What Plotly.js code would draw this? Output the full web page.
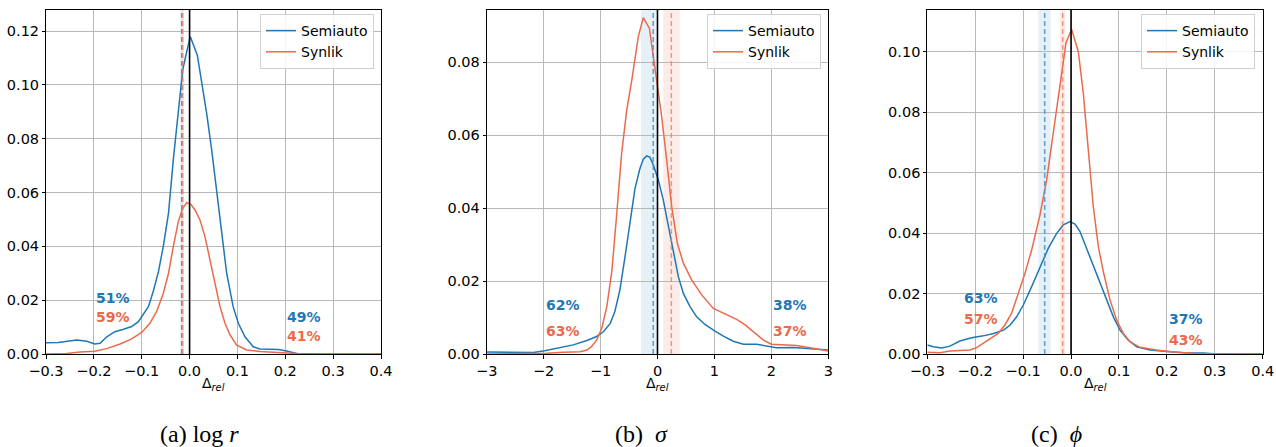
<!DOCTYPE html>
<html>
<head>
<meta charset="utf-8">
<script src="https://cdn.plot.ly/plotly-3.0.1.min.js"></script>
<style>html,body{margin:0;padding:0;background:#fff;}#plot{width:1276px;height:447px;}</style>
</head>
<body>
<div id="plot"></div>
<script>
// ---------- DATA ----------
const seriesNames = ["Semiauto", "Synlik"];
const captions = ["(a)&#160;log&#160;<i>r</i>", "(b)&#160;&#160;<i>σ</i>", "(c)&#160;&#160;<i>ϕ</i>"];

// Panel (a) log r
const a_semi_x = [-0.3,-0.274,-0.236,-0.215,-0.198,-0.187,-0.173,-0.156,-0.138,-0.121,-0.107,-0.097,-0.086,-0.076,-0.065,-0.055,-0.044,-0.034,-0.0235,-0.0144,-0.006,0.0016,0.0162,0.025,0.0357,0.0462,0.0566,0.067,0.0775,0.091,0.1019,0.1158,0.1332,0.147,0.168,0.1855,0.203,0.224,0.2656,0.4];
const a_semi_y = [0.0042,0.0043,0.0052,0.0047,0.0037,0.004,0.0064,0.0083,0.0092,0.0102,0.012,0.0145,0.0176,0.0232,0.0306,0.0399,0.0523,0.0721,0.0906,0.1055,0.1123,0.1179,0.111,0.1012,0.0894,0.0758,0.0609,0.0448,0.030,0.0176,0.0114,0.0064,0.0027,0.0019,0.0019,0.0017,0.0011,0.0002,0,0];
const a_syn_x = [-0.3,-0.257,-0.229,-0.198,-0.173,-0.145,-0.121,-0.1,-0.083,-0.069,-0.055,-0.044,-0.034,-0.0235,-0.0144,-0.006,0.0023,0.0113,0.0218,0.0322,0.0427,0.0531,0.0636,0.074,0.0845,0.0984,0.1193,0.147,0.182,0.2308,0.4];
const a_syn_y = [0,0.0002,0.0007,0.001,0.002,0.0037,0.0056,0.008,0.0114,0.0157,0.0225,0.030,0.0399,0.0492,0.0541,0.0562,0.0557,0.0535,0.0498,0.0436,0.0349,0.0256,0.0176,0.0114,0.0071,0.0033,0.0015,0.0009,0.0005,0.0001,0];

// Panel (b) sigma
const b_semi_x = [-3,-2.53,-2.18,-1.98,-1.77,-1.48,-1.24,-1.07,-0.95,-0.83,-0.75,-0.66,-0.57,-0.48,-0.395,-0.307,-0.249,-0.19,-0.132,-0.073,0.015,0.102,0.19,0.278,0.366,0.454,0.571,0.688,0.834,1.01,1.157,1.33,1.51,1.74,1.92,2.09,2.39,2.62,3];
const b_semi_y = [0.00055,0.00046,0.0004,0.0009,0.0016,0.0025,0.0037,0.0048,0.0061,0.0084,0.0116,0.0176,0.0267,0.0368,0.0454,0.0509,0.0534,0.0543,0.0539,0.0518,0.0477,0.0422,0.0349,0.0276,0.0212,0.0166,0.013,0.0102,0.0081,0.0063,0.0049,0.0035,0.0027,0.0027,0.0022,0.0017,0.0018,0.0016,0.0011];
const b_syn_x = [-3,-1.95,-1.65,-1.36,-1.24,-1.16,-1.07,-0.98,-0.89,-0.80,-0.72,-0.63,-0.54,-0.45,-0.337,-0.249,-0.143,-0.073,-0.003,0.073,0.161,0.249,0.348,0.454,0.6,0.776,0.98,1.157,1.39,1.54,1.68,1.86,2.0,2.21,2.44,2.68,3];
const b_syn_y = [0,0.0002,0.0005,0.0006,0.0011,0.002,0.0038,0.007,0.013,0.023,0.0377,0.055,0.0669,0.0752,0.087,0.0922,0.0893,0.0815,0.0733,0.0651,0.0532,0.0404,0.0304,0.0249,0.0203,0.0162,0.0125,0.0112,0.0095,0.008,0.0061,0.0038,0.0027,0.0025,0.0023,0.0017,0.0008];

// Panel (c) phi
const c_semi_x = [-0.3,-0.2875,-0.27,-0.2527,-0.232,-0.2075,-0.183,-0.162,-0.141,-0.127,-0.1135,-0.0996,-0.0822,-0.0648,-0.0474,-0.03,-0.0161,-0.0022,0.0083,0.0187,0.0326,0.0465,0.0604,0.0743,0.0883,0.1022,0.1196,0.137,0.1648,0.1996,0.2344,0.276,0.304,0.4];
const c_semi_y = [0.003,0.0024,0.002,0.0026,0.0043,0.0054,0.006,0.0068,0.0079,0.0096,0.0123,0.0162,0.0223,0.0289,0.035,0.0399,0.0427,0.0438,0.043,0.0405,0.035,0.0289,0.0234,0.0179,0.0123,0.0079,0.0046,0.0024,0.0013,0.0008,0.0004,0.0003,0,0];
const c_syn_x = [-0.3,-0.2736,-0.2527,-0.232,-0.211,-0.197,-0.183,-0.169,-0.152,-0.138,-0.124,-0.110,-0.0961,-0.0822,-0.0648,-0.0509,-0.037,-0.0231,-0.0105,0.0013,0.0152,0.0256,0.0361,0.0465,0.057,0.0674,0.0813,0.0952,0.1091,0.123,0.1439,0.1787,0.2135,0.262,0.4];
const c_syn_y = [0.0006,0.0004,0.001,0.0012,0.0013,0.0021,0.0035,0.005,0.0068,0.0096,0.0135,0.0201,0.0267,0.0344,0.046,0.0576,0.073,0.0895,0.103,0.1074,0.1,0.0862,0.0664,0.0487,0.0355,0.0272,0.0179,0.0112,0.0068,0.0041,0.0022,0.0013,0.0007,0.0002,0];

// Medians and their bands [semi, syn] per panel
const medians   = [[-0.0164, -0.0143], [-0.075, 0.243], [-0.055, -0.0174]];
const bandLow   = [[-0.0195, -0.0165], [-0.29, 0.10], [-0.0683, -0.023]];
const bandHigh  = [[-0.0133, -0.0120], [-0.005, 0.39], [-0.0425, -0.012]];

// Percent labels: [left semi, left syn, right semi, right syn]
const pctLabels = [["51%","59%","49%","41%"], ["62%","63%","38%","37%"], ["63%","57%","37%","43%"]];
const pctX = [[-0.2, 0.2], [-2, 2], [-0.228, 0.2]];
const pctY = [[0.0208, 0.0139, 0.0139, 0.0067], [0.0134, 0.0063, 0.0134, 0.0063], [0.0186, 0.0116, 0.0116, 0.0046]];

const xRanges = [[-0.3, 0.4], [-3, 3], [-0.3, 0.4]];
const yRanges = [[0, 0.1278], [0, 0.0943], [0, 0.1138]];
const xTicks = [[-0.3,-0.2,-0.1,0,0.1,0.2,0.3,0.4], [-3,-2,-1,0,1,2,3], [-0.3,-0.2,-0.1,0,0.1,0.2,0.3,0.4]];
const yTicks = [[0,0.02,0.04,0.06,0.08,0.10,0.12], [0,0.02,0.04,0.06,0.08], [0,0.02,0.04,0.06,0.08,0.10]];

// ---------- STYLE ----------
const BLUE = "#1f77b4";
const ORANGE = "#ea6a4b";
const BLUE_BAND = "rgba(31,119,180,0.11)";
const ORANGE_BAND = "rgba(234,106,75,0.13)";
const BLUE_DASH = "rgba(70,140,200,0.85)";
const ORANGE_DASH = "rgba(234,120,100,0.75)";
const W = 1276, H = 447;
const FONT = "DejaVu Sans, sans-serif";
const TICK_SIZE = 14.5;

const px = [[46, 381], [486.7, 828.3], [927.3, 1262.7]];
const plotTop = 10, plotBottom = 354;
const legendRight = [374, 821, 1255];
const captionX = [199, 641, 1056];

const curves = [
  [[a_semi_x, a_semi_y], [a_syn_x, a_syn_y]],
  [[b_semi_x, b_semi_y], [b_syn_x, b_syn_y]],
  [[c_semi_x, c_semi_y], [c_syn_x, c_syn_y]]
];

const traces = [];
const shapes = [];
const annotations = [];
const layout = {
  width: W, height: H,
  margin: {l: 0, r: 0, t: 0, b: 0},
  paper_bgcolor: "#fff", plot_bgcolor: "rgba(0,0,0,0)",
  font: {family: FONT, size: 14, color: "#000"},
  showlegend: true
};

const legendKeys = ["legend", "legend2", "legend3"];
for (let i = 0; i < 3; i++) {
  const sfx = i === 0 ? "" : String(i + 1);
  const xr = "x" + sfx, yr = "y" + sfx;
  const colors = [BLUE, ORANGE];
  for (let s = 0; s < 2; s++) {
    traces.push({
      type: "scatter", mode: "lines",
      x: curves[i][s][0], y: curves[i][s][1],
      xaxis: xr, yaxis: yr,
      name: seriesNames[s],
      line: {color: colors[s], width: 1.5},
      legend: legendKeys[i],
      hoverinfo: "skip"
    });
  }
  layout["xaxis" + sfx] = {
    domain: [px[i][0] / W, px[i][1] / W],
    anchor: yr,
    range: xRanges[i],
    tickvals: xTicks[i],
    tickformat: i === 1 ? "d" : ".1f",
    showgrid: true, gridcolor: "#b8b8b8", gridwidth: 1,
    zeroline: false,
    showline: true, linecolor: "#000", linewidth: 1, mirror: true,
    ticks: "outside", ticklen: 4, tickcolor: "#000", tickwidth: 1,
    tickfont: {family: FONT, size: TICK_SIZE, color: "#000"}
  };
  layout["yaxis" + sfx] = {
    domain: [(H - plotBottom) / H, (H - plotTop) / H],
    anchor: xr,
    range: yRanges[i],
    tickvals: yTicks[i],
    tickformat: ".2f",
    showgrid: true, gridcolor: "#b8b8b8", gridwidth: 1,
    zeroline: false,
    showline: true, linecolor: "#000", linewidth: 1, mirror: true,
    ticks: "outside", ticklen: 3, tickcolor: "#000", tickwidth: 1,
    tickfont: {family: FONT, size: TICK_SIZE, color: "#000"}
  };
  layout[legendKeys[i]] = {
    x: legendRight[i] / W, y: (H - 14) / H,
    xanchor: "right", yanchor: "top",
    xref: "paper", yref: "paper",
    bgcolor: "rgba(255,255,255,0.85)",
    bordercolor: "#d0d0d0", borderwidth: 1,
    font: {family: FONT, size: 14, color: "#000"},
    tracegroupgap: 0
  };

  // bands
  const bandCols = [BLUE_BAND, ORANGE_BAND];
  const dashCols = [BLUE_DASH, ORANGE_DASH];
  for (let s = 0; s < 2; s++) {
    shapes.push({
      type: "rect", xref: xr, yref: "paper",
      x0: bandLow[i][s], x1: bandHigh[i][s],
      y0: (H - plotBottom) / H, y1: (H - plotTop) / H,
      fillcolor: bandCols[s], line: {width: 0}, layer: "below"
    });
  }
  for (let s = 0; s < 2; s++) {
    shapes.push({
      type: "line", xref: xr, yref: "paper",
      x0: medians[i][s], x1: medians[i][s],
      y0: (H - plotBottom) / H, y1: (H - plotTop) / H,
      line: {color: dashCols[s], width: 1.5, dash: "5px,3px"}, layer: "above"
    });
  }
  shapes.push({
    type: "line", xref: xr, yref: "paper",
    x0: 0, x1: 0,
    y0: (H - plotBottom) / H, y1: (H - plotTop) / H,
    line: {color: "#000", width: 1.6}, layer: "above"
  });

  // percent labels
  const pcol = [BLUE, ORANGE, BLUE, ORANGE];
  for (let k = 0; k < 4; k++) {
    annotations.push({
      xref: xr, yref: yr,
      x: pctX[i][k < 2 ? 0 : 1], y: pctY[i][k],
      text: "<b>" + pctLabels[i][k] + "</b>",
      showarrow: false, xanchor: "left", yanchor: "middle",
      font: {family: FONT, size: 14, color: pcol[k]}
    });
  }
  // x axis title
  annotations.push({
    xref: "paper", yref: "paper",
    x: (px[i][0] + px[i][1]) / 2 / W, y: (H - 384) / H,
    text: "Δ<sub><i>rel</i></sub>",
    showarrow: false, xanchor: "center", yanchor: "middle",
    font: {family: FONT, size: 14, color: "#000"}
  });
  // caption
  annotations.push({
    xref: "paper", yref: "paper",
    x: captionX[i] / W, y: (H - 434) / H,
    text: captions[i],
    showarrow: false, xanchor: "center", yanchor: "middle",
    font: {family: "Liberation Serif, serif", size: 24, color: "#000"}
  });
}
layout.shapes = shapes;
layout.annotations = annotations;

Plotly.newPlot("plot", traces, layout, {displayModeBar: false, staticPlot: true});
</script>
</body>
</html>
